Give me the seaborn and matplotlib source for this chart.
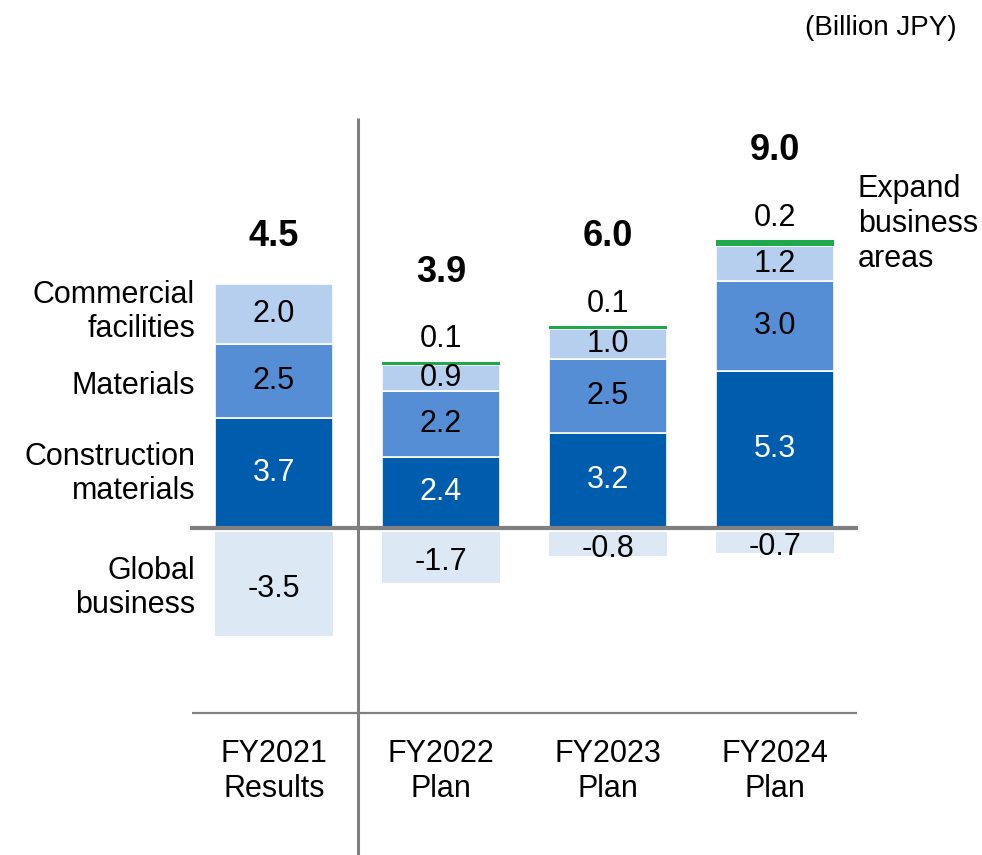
import numpy as np
import pandas as pd
import matplotlib
matplotlib.use("Agg")
import matplotlib.pyplot as plt
import seaborn as sns

sns.set_theme(style="white")
plt.rcParams['font.family'] = ['Liberation Sans', 'DejaVu Sans']
plt.rcParams['text.color'] = 'black'

# ---- data ----
categories = ["FY2021\nResults", "FY2022\nPlan", "FY2023\nPlan", "FY2024\nPlan"]
construction = [3.7, 2.4, 3.2, 5.3]
materials = [2.5, 2.2, 2.5, 3.0]
commercial = [2.0, 0.9, 1.0, 1.2]
expand = [0.0, 0.1, 0.1, 0.2]
global_biz = [-3.5, -1.7, -0.8, -0.7]
totals = ["4.5", "3.9", "6.0", "9.0"]

colors = {"construction": "#005DAE", "materials": "#558ED5",
          "commercial": "#B7CFEE", "expand": "#1FA94A", "global": "#DDE8F5"}

W, H = 982, 855
fig = plt.figure(figsize=(W / 100, H / 100), dpi=100)
ax = fig.add_axes([0, 0, 1, 1])

bw = 0.707
n = len(categories)
df = pd.DataFrame({"cat": categories, "construction": construction, "materials": materials,
                   "commercial": commercial, "expand": expand, "global": global_biz})

layers = [("construction", construction), ("materials", materials),
          ("commercial", commercial), ("expand", expand)]
bottom = np.zeros(n)
bottoms = {}
for key, vals in layers:
    bottoms[key] = bottom.copy()
    sns.barplot(data=df, x="cat", y=key, order=categories, color=colors[key],
                saturation=1, width=bw, errorbar=None, bottom=bottom.copy(),
                edgecolor="white", linewidth=1.2 if key != "expand" else 0, ax=ax)
    bottom = bottom + np.array(vals)
tops = bottom.copy()

neg_offset = -0.14
sns.barplot(data=df, x="cat", y="global", order=categories, color=colors["global"],
            saturation=1, width=bw, errorbar=None, bottom=neg_offset,
            edgecolor="white", linewidth=0, ax=ax)

# ---- coordinates ----
px_per_unit = 29.7
x0px, dxpx, zero_px = 274, 167, 528
ax.set_xlim(-x0px / dxpx, (W - x0px) / dxpx)
ax.set_ylim(-(H - zero_px) / px_per_unit, zero_px / px_per_unit)
ax.axis("off")

fs = 22
# segment labels
for i in range(n):
    for key, vals in layers[:3]:
        v = vals[i]
        yc = bottoms[key][i] + v / 2
        ax.text(i, yc, f"{v:.1f}", ha="center", va="center", fontsize=fs,
                color="white" if key == "construction" else "black")
    if expand[i] > 0:
        ax.text(i, tops[i] + 0.75, f"{expand[i]:.1f}", ha="center", va="center", fontsize=fs)
        ytot = tops[i] + 3.0
    else:
        ytot = tops[i] + 1.6
    ax.text(i, ytot, totals[i], ha="center", va="center", fontsize=26, fontweight="bold")
    g = global_biz[i]
    ax.text(i, g / 2 - 0.3, f"{g:.1f}", ha="center", va="center", fontsize=fs)
    ax.text(i, -8.2, categories[i], ha="center", va="center", fontsize=fs, linespacing=1.25)

# lines
ax.plot([-0.503, 3.497], [0, 0], color="#808080", lw=3, solid_capstyle="butt", zorder=5)
ax.plot([-0.49, 3.49], [-(713 - zero_px) / px_per_unit] * 2, color="#808080", lw=1.6,
        solid_capstyle="butt")
ax.plot([0.5, 0.5], [(zero_px - 118) / px_per_unit, -(H - zero_px) / px_per_unit],
        color="#808080", lw=2.2, solid_capstyle="butt")

# left legend-like labels
lx = (195 - x0px) / dxpx
ls = 1.2
ax.text(lx, (zero_px - 312) / px_per_unit, "Commercial\nfacilities", ha="right", va="center",
        fontsize=fs, linespacing=ls)
ax.text(lx, (zero_px - 386) / px_per_unit, "Materials", ha="right", va="center", fontsize=fs)
ax.text(lx, (zero_px - 474) / px_per_unit, "Construction\nmaterials", ha="right", va="center",
        fontsize=fs, linespacing=ls)
ax.text(lx, (zero_px - 588) / px_per_unit, "Global\nbusiness", ha="right", va="center",
        fontsize=fs, linespacing=ls)
ax.text((858 - x0px) / dxpx, (zero_px - 224) / px_per_unit, "Expand\nbusiness\nareas",
        ha="left", va="center", fontsize=fs, linespacing=ls)

ax.text((957 - x0px) / dxpx, (zero_px - 28) / px_per_unit, "(Billion JPY)", ha="right",
        va="center", fontsize=20)

fig.savefig("out.png", dpi=100)
